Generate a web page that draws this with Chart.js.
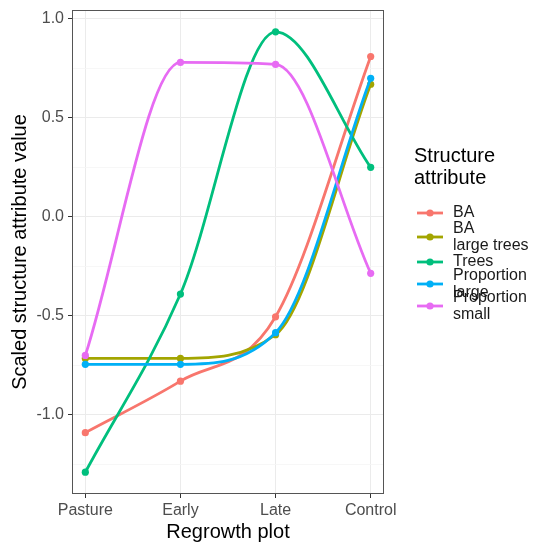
<!DOCTYPE html>
<html>
<head>
<meta charset="utf-8">
<script src="https://cdn.jsdelivr.net/npm/chart.js@4.4.1/dist/chart.umd.min.js"></script>
<style>
  html, body { margin: 0; padding: 0; background: #fff; }
  #wrap { width: 535px; height: 542px; position: relative; }
</style>
</head>
<body>
<div id="wrap"><canvas id="chart"></canvas></div>
<script>
// --- data ---
const categories = ["Pasture", "Early", "Late", "Control"];
const seriesNames = [["BA"], ["BA", "large trees"], ["Trees"], ["Proportion", "large"], ["Proportion", "small"]];
const baValues = [-1.09, -0.83, -0.505, 0.81];
const baLargeValues = [-0.715, -0.715, -0.595, 0.67];
const treesValues = [-1.29, -0.39, 0.935, 0.25];
const propLargeValues = [-0.745, -0.745, -0.585, 0.70];
const propSmallValues = [-0.70, 0.78, 0.77, -0.285];
const yTickValues = [-1.25, -1.0, -0.75, -0.5, -0.25, 0, 0.25, 0.5, 0.75, 1.0];

const colors = ["#F8766D", "#A3A500", "#00BF7D", "#00B0F6", "#E76BF3"];
const allValues = [baValues, baLargeValues, treesValues, propLargeValues, propSmallValues];

const FONT = "'Liberation Sans', Arial, sans-serif";
const isMajor = v => Math.abs(v * 2 - Math.round(v * 2)) < 1e-6;

const datasets = allValues.map((vals, i) => ({
    label: seriesNames[i].join(" "),
    data: vals.map((v, j) => ({ x: j, y: v })),
    borderColor: colors[i],
    backgroundColor: colors[i],
    borderWidth: 2.8,
    pointRadius: 3.6,
    pointBorderWidth: 0,
    cubicInterpolationMode: "monotone",
    order: allValues.length - i   // ggplot draws the last level on top
}));

// panel frame + legend drawn by hand (ggplot style)
const frameAndLegend = {
    id: "frameAndLegend",
    afterDatasetsDraw(chart) {
        const { ctx, chartArea: a } = chart;
        ctx.save();
        ctx.strokeStyle = "#555";
        ctx.lineWidth = 1;
        ctx.strokeRect(a.left + 0.5, a.top + 0.5, a.right - a.left - 1, a.bottom - a.top - 1);
        ctx.restore();
    },
    afterDraw(chart) {
        const ctx = chart.ctx;
        ctx.save();
        ctx.fillStyle = "#000";
        ctx.textBaseline = "middle";
        ctx.font = "20px " + FONT;
        ctx.fillText("Structure", 414, 156);
        ctx.fillText("attribute", 414, 178);

        const rowY = [213, 237, 262, 284, 306];
        ctx.font = "16px " + FONT;
        seriesNames.forEach((lines, i) => {
            const y = rowY[i];
            ctx.strokeStyle = colors[i];
            ctx.lineWidth = 2.8;
            ctx.beginPath();
            ctx.moveTo(417, y);
            ctx.lineTo(443, y);
            ctx.stroke();
            ctx.fillStyle = colors[i];
            ctx.beginPath();
            ctx.arc(430, y, 3.6, 0, Math.PI * 2);
            ctx.fill();
            ctx.fillStyle = "#1a1a1a";
            const start = y - (lines.length - 1) * 17 / 2;
            lines.forEach((t, k) => ctx.fillText(t, 453, start + k * 17));
        });
        ctx.restore();
    }
};

new Chart(document.getElementById("chart"), {
    type: "line",
    data: { datasets },
    plugins: [frameAndLegend],
    options: {
        responsive: true,
        maintainAspectRatio: false,
        animation: false,
        layout: { padding: { top: 10, right: 151, left: 0, bottom: 0 } },
        plugins: { legend: { display: false }, tooltip: { enabled: false } },
        scales: {
            x: {
                type: "linear",
                min: -0.14,
                max: 3.14,
                afterBuildTicks: s => { s.ticks = categories.map((c, i) => ({ value: i })); },
                afterFit: s => { s.height = 48; s.paddingLeft = 0; s.paddingRight = 0; },
                border: { display: false },
                grid: { color: "#EBEBEB", lineWidth: 1, tickColor: "#333", tickLength: 4 },
                ticks: {
                    color: "#4D4D4D",
                    font: { family: FONT, size: 16 },
                    padding: 3,
                    maxRotation: 0,
                    callback: v => categories[v]
                },
                title: {
                    display: true,
                    text: "Regrowth plot",
                    color: "#000",
                    font: { family: FONT, size: 20, lineHeight: 1 },
                    padding: { top: 0, bottom: 0 }
                }
            },
            y: {
                type: "linear",
                min: -1.40,
                max: 1.045,
                afterBuildTicks: s => { s.ticks = yTickValues.map(v => ({ value: v })); },
                afterFit: s => { s.width = 72; s.paddingTop = 0; s.paddingBottom = 0; },
                border: { display: false },
                grid: {
                    color: c => isMajor(c.tick.value) ? "#EBEBEB" : "#F5F5F5",
                    lineWidth: c => isMajor(c.tick.value) ? 1 : 0.8,
                    tickColor: c => isMajor(c.tick.value) ? "#333" : "rgba(0,0,0,0)",
                    tickLength: 4
                },
                ticks: {
                    color: "#4D4D4D",
                    font: { family: FONT, size: 16 },
                    padding: 4,
                    callback: v => isMajor(v) ? v.toFixed(1) : ""
                },
                title: {
                    display: true,
                    text: "Scaled structure attribute value",
                    color: "#000",
                    font: { family: FONT, size: 20, lineHeight: 1 },
                    padding: { top: 10, bottom: 0 }
                }
            }
        }
    }
});
</script>
</body>
</html>
